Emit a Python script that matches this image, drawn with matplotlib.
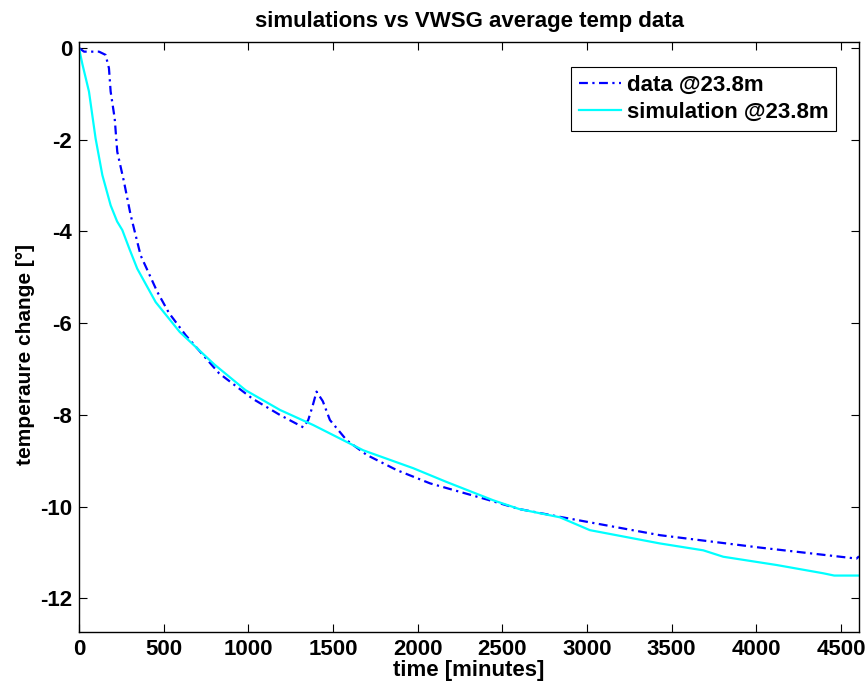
import matplotlib
matplotlib.use("Agg")
import matplotlib.pyplot as plt

# data (time in minutes, temperature change in degrees)
data_t = [0, 30, 118, 157, 177, 187, 211, 226, 266, 305, 364, 463, 532, 630,
          827, 1023, 1187, 1325, 1354, 1380, 1403, 1440, 1482, 1581, 1699, 1876,
          2073, 2407, 2600, 2840, 3431, 4021, 4592, 4607]
data_y = [0, -0.08, -0.08, -0.15, -0.44, -0.95, -1.54, -2.26, -2.92, -3.64,
          -4.52, -5.32, -5.78, -6.26, -7.09, -7.64, -8.0, -8.27, -8.11, -7.8,
          -7.49, -7.7, -8.11, -8.55, -8.87, -9.2, -9.49, -9.84, -10.05, -10.22,
          -10.62, -10.89, -11.13, -11.08]

sim_t = [0, 20, 59, 98, 138, 187, 225, 256, 300, 344, 453, 595, 800, 984, 1187,
         1384, 1679, 1974, 2171, 2447, 2600, 2840, 3017, 3431, 3687, 3805, 4120,
         4395, 4460, 4607]
sim_y = [0, -0.35, -0.95, -1.97, -2.77, -3.43, -3.78, -3.97, -4.4, -4.81, -5.54,
         -6.19, -6.9, -7.46, -7.89, -8.22, -8.77, -9.16, -9.46, -9.86, -10.05,
         -10.23, -10.51, -10.80, -10.95, -11.09, -11.27, -11.45, -11.5, -11.5]

plt.rcParams['font.family'] = ['Liberation Sans', 'DejaVu Sans']
plt.rcParams['font.weight'] = 'bold'
plt.rcParams['font.size'] = 16
plt.rcParams['axes.unicode_minus'] = False

fig = plt.figure(figsize=(8.66, 6.91), dpi=100)
ax = fig.add_axes([0.0912, 0.0854, 0.9008, 0.8538])

ax.plot(data_t, data_y, color='#0000ff', linestyle='-.', linewidth=1.6,
        dashes=(4, 2, 1, 2), label='data @23.8m')
ax.plot(sim_t, sim_y, color='#00ffff', linewidth=1.6, label='simulation @23.8m')

ax.set_xlim(0, 4607)
ax.set_ylim(-12.73, 0.13)
ax.set_xticks([0, 500, 1000, 1500, 2000, 2500, 3000, 3500, 4000, 4500])
ax.set_yticks([0, -2, -4, -6, -8, -10, -12])
ax.tick_params(direction='in', length=6, width=0.8, top=True, right=True, pad=5)
for s in ax.spines.values():
    s.set_linewidth(1.0)

ax.set_title('simulations vs VWSG average temp data', fontsize=16, fontweight='bold', pad=11)
ax.set_xlabel('time [minutes]', fontweight='bold', labelpad=0)
ax.set_ylabel('temperaure change [°]', fontweight='bold', fontsize=15)
ax.yaxis.set_label_coords(-0.057, 0.47)

leg = ax.legend(loc='upper right', bbox_to_anchor=(0.971, 0.958), fancybox=False,
                edgecolor='black', framealpha=1, handlelength=1.9, handletextpad=0.25,
                borderpad=0.35, labelspacing=0.3, borderaxespad=0)
leg.get_frame().set_linewidth(0.8)

fig.savefig('out.png', dpi=100)
